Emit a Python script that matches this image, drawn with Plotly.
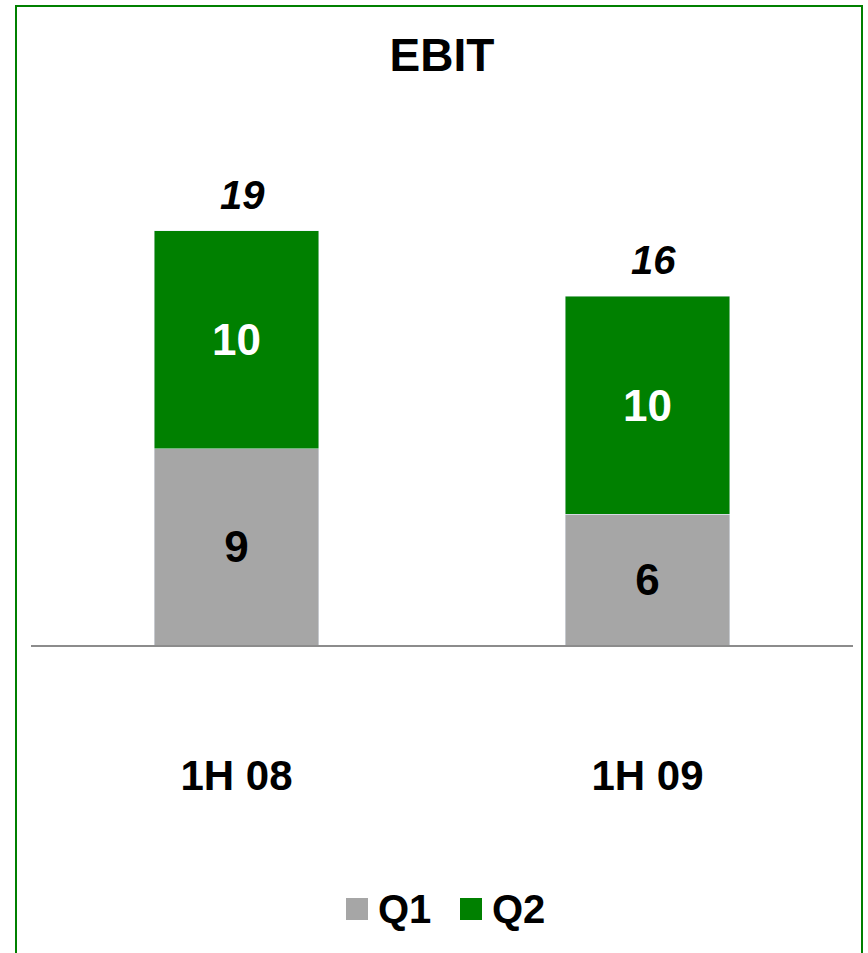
import plotly.graph_objects as go

# EBIT by half-year, split into quarters
categories = ["1H 08", "1H 09"]
series_names = ["Q1", "Q2"]
q1_values = [9, 6]
q2_values = [10, 10]
totals = [a + b for a, b in zip(q1_values, q2_values)]

GREY = "#a6a6a6"
GREEN = "#008000"
FONT = "Liberation Sans, Arial, sans-serif"

W, H = 868, 953
M_L, M_R, M_T, M_B = 31, 15, 100, 308
PLOT_W = W - M_L - M_R
PLOT_H = H - M_T - M_B


def px_x(x):
    return (x - M_L) / PLOT_W


def px_y(y):
    return (H - M_B - y) / PLOT_H


fig = go.Figure()
fig.add_trace(go.Bar(
    name=series_names[0], x=categories, y=q1_values, marker_color=GREY,
    text=q1_values, textposition="inside", insidetextanchor="middle",
    textfont=dict(family=FONT, size=44, color="black", weight="bold"),
    showlegend=False, width=0.4,
))
fig.add_trace(go.Bar(
    name=series_names[1], x=categories, y=q2_values, marker_color=GREEN,
    text=q2_values, textposition="inside", insidetextanchor="middle",
    textfont=dict(family=FONT, size=44, color="white", weight="bold"),
    showlegend=False, width=0.4,
))

# Totals above each stack
for cat, tot in zip(categories, totals):
    fig.add_annotation(
        x=cat, y=tot, text=str(tot), showarrow=False, yanchor="bottom",
        yshift=12, xshift=6, font=dict(family=FONT, size=40, color="black",
                                       weight="bold", style="italic"),
    )

# Legend: coloured squares with series names
legend_items = [(series_names[0], GREY, 346), (series_names[1], GREEN, 460)]
for name, color, x0 in legend_items:
    fig.add_shape(type="rect", xref="paper", yref="paper",
                  x0=px_x(x0), x1=px_x(x0 + 22), y0=px_y(920), y1=px_y(898),
                  fillcolor=color, line_width=0)
    fig.add_annotation(xref="paper", yref="paper", x=px_x(x0 + 30), y=px_y(909),
                       text=name, showarrow=False, xanchor="left", yanchor="middle",
                       font=dict(family=FONT, size=40, color="black", weight="bold"))

# Green frame around the chart
fig.add_shape(type="rect", xref="paper", yref="paper",
              x0=px_x(16), x1=px_x(862), y0=px_y(965), y1=px_y(6),
              line=dict(color=GREEN, width=2), fillcolor="rgba(0,0,0,0)")

fig.update_layout(
    width=W, height=H, barmode="stack", bargap=0.6,
    margin=dict(l=M_L, r=M_R, t=M_T, b=M_B),
    paper_bgcolor="white", plot_bgcolor="white",
    title=dict(text="<b>EBIT</b>", x=0.5, xref="paper", xanchor="center",
               y=1 - 55 / H, yanchor="middle",
               font=dict(family=FONT, size=46, color="black")),
    showlegend=False,
    xaxis=dict(showline=True, linecolor="#8c8c8c", linewidth=2, ticks="",
               tickfont=dict(family=FONT, size=42, color="black", weight="bold"),
               ticklabelstandoff=93, range=[-0.5, 1.5]),
    yaxis=dict(visible=False, range=[0, PLOT_H / 21.8]),
)

fig.write_html("out.html")
